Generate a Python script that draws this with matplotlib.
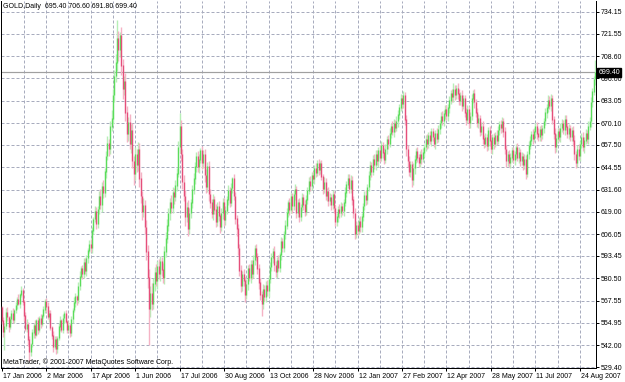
import matplotlib
matplotlib.use("Agg")
import matplotlib.pyplot as plt
import matplotlib.transforms as mtransforms
import numpy as np

# ---------------- data ----------------
symbol_header = "GOLD,Daily  695.40 706.60 691.80 699.40"
copyright_text = "MetaTrader, \u00a9 2001-2007 MetaQuotes Software Corp."
first_open = 563.5
closes = [
    556.0, 549.5, 553.0, 561.0, 558.0, 552.5, 557.0, 560.5, 556.5, 562.0,
    565.0, 568.5, 566.0, 571.0, 573.5, 567.0, 559.0, 551.5, 554.0, 545.0,
    538.0, 542.5, 549.0, 553.5, 548.0, 556.0, 551.0, 557.5, 554.0, 559.0,
    562.5, 567.0, 564.0, 558.0, 560.5, 552.0, 547.5, 541.0, 545.5, 539.5,
    546.0, 552.5, 556.0, 551.0, 557.5, 560.0, 555.5, 551.0, 553.5, 549.0,
    557.0, 562.0, 566.5, 570.0, 568.0, 576.0, 581.5, 586.0, 583.0, 589.5,
    585.0, 592.0, 596.5, 600.0, 598.0, 608.0, 614.5, 619.0, 612.0, 620.5,
    628.0, 623.0, 633.5, 630.0, 642.0, 651.0, 658.5, 655.0, 668.0, 672.5,
    686.0, 697.0, 705.0, 719.0, 712.0, 720.5, 703.0, 690.0, 694.0, 676.0,
    664.0, 670.5, 658.0, 666.0, 648.0, 640.5, 652.0, 646.0, 655.0, 638.0,
    628.0, 619.0, 622.5, 610.0, 596.0, 581.0, 563.0, 572.0, 566.0, 577.5,
    584.0, 579.0, 587.5, 583.0, 590.0, 585.5, 581.0, 596.0, 603.5, 611.0,
    618.0, 624.5, 621.0, 630.0, 627.5, 634.0, 641.0, 656.0, 668.0, 652.0,
    636.0, 628.0, 616.0, 621.5, 609.0, 618.0, 624.0, 631.5, 638.0, 645.0,
    651.0, 644.5, 649.0, 654.0, 647.0, 652.0, 640.0, 633.0, 645.0, 629.0,
    624.0, 617.5, 626.0, 620.0, 613.0, 622.0, 616.5, 610.0, 618.0, 624.5,
    614.0, 619.5, 626.0, 631.0, 624.0, 632.5, 638.0, 628.0, 615.0, 609.0,
    598.0, 585.0, 576.0, 582.5, 579.0, 571.0, 577.0, 586.0, 581.0, 588.5,
    583.0, 591.0, 597.5, 593.0, 586.0, 578.0, 571.0, 566.0, 574.0, 570.0,
    576.5, 573.0, 580.0, 587.0, 592.5, 596.0, 588.0, 584.0, 591.0, 586.5,
    594.0, 601.5, 598.0, 606.0, 611.0, 618.5, 624.0, 620.0, 627.5, 622.0,
    629.0, 632.0, 618.0, 624.0, 616.0, 621.5, 627.0, 623.0, 619.0, 626.0,
    631.0, 636.5, 634.0, 640.0, 638.0, 644.0, 641.5, 647.0, 643.0, 646.5,
    639.0, 632.0, 636.0, 628.0, 630.5, 625.0, 627.0, 623.0, 629.0, 621.0,
    613.0, 616.0, 620.5, 618.0, 622.0, 619.5, 624.0, 630.0, 634.5, 638.0,
    632.0, 637.0, 626.0, 618.0, 606.0, 611.0, 608.0, 613.5, 610.0, 616.0,
    622.0, 628.5, 626.0, 633.0, 640.0, 645.5, 642.0, 649.0, 646.0, 652.0,
    648.0, 654.5, 650.0, 657.0, 653.0, 649.0, 655.0, 660.5, 658.0, 664.0,
    668.0, 665.0, 670.0, 667.5, 671.0, 675.0, 679.0, 684.0, 681.0, 686.0,
    672.0, 655.0, 648.0, 642.0, 646.0, 637.0, 644.0, 649.0, 653.5, 650.0,
    647.0, 652.0, 649.5, 653.0, 656.0, 660.5, 658.0, 663.0, 660.0, 665.5,
    662.0, 658.0, 664.0, 661.0, 666.5, 670.0, 674.0, 671.0, 675.5, 678.0,
    674.0, 679.0, 683.0, 687.0, 685.0, 689.5, 686.0, 690.0, 687.0, 683.0,
    686.0, 680.0, 684.0, 676.0, 672.0, 678.0, 670.0, 674.0, 684.0, 687.0,
    682.0, 676.0, 670.0, 673.0, 665.0, 668.0, 661.0, 658.0, 662.0, 657.0,
    666.0, 660.0, 655.0, 662.0, 658.0, 663.0, 660.0, 666.0, 669.5, 667.0,
    671.0, 665.0, 655.0, 648.0, 652.0, 647.0, 650.0, 654.0, 649.0, 652.0,
    656.0, 650.0, 653.0, 648.0, 651.0, 646.0, 649.0, 641.0, 652.0, 657.0,
    660.0, 663.5, 661.0, 665.0, 668.0, 664.0, 662.0, 666.5, 663.0, 667.0,
    671.0, 676.0, 679.0, 683.0, 680.0, 684.0, 672.0, 664.0, 656.0, 661.0,
    665.0, 662.0, 667.0, 670.0, 666.0, 672.0, 668.0, 664.0, 667.0, 662.0,
    666.0, 660.0, 652.0, 647.0, 655.0, 651.0, 658.0, 662.0, 656.0, 660.0,
    664.0, 661.0, 668.0, 671.0, 682.0, 688.0, 695.4, 699.4,
]
upper_wick = [
    1.0, 2.0, 1.5, 2.5, 3.0, 1.0, 2.0, 1.5, 3.0, 1.0,
    2.0, 1.5, 3.0, 1.0, 2.5, 1.5, 1.0, 2.0, 3.0, 1.5,
    2.0, 1.0, 2.5, 1.5, 3.0, 1.0, 2.0, 1.5, 2.5, 1.0,
    2.0, 1.5, 2.0, 3.0, 1.5, 2.0, 1.0, 2.5, 1.5, 2.0,
    1.5, 2.0, 3.0, 1.0, 2.5, 1.5, 2.0, 1.0, 2.5, 1.5,
    2.0, 1.5, 3.0, 2.0, 1.0, 2.5, 3.0, 1.5, 2.0, 2.5,
    3.0, 2.0, 1.5, 2.5, 3.0, 2.0, 1.5, 3.0, 2.5, 2.0,
    3.0, 4.0, 2.5, 3.5, 2.0, 3.0, 4.0, 2.5, 3.0, 5.0,
    4.0, 3.5, 5.0, 10.5, 4.0, 2.0, 5.0, 4.0, 3.0, 5.0,
    4.0, 3.0, 5.0, 3.5, 4.0, 3.0, 4.5, 3.0, 4.0, 3.5,
    4.0, 3.0, 4.5, 3.0, 4.0, 3.5, 5.0, 4.0, 6.0, 3.0,
    3.0, 5.0, 3.0, 4.0, 3.5, 3.0, 4.0, 3.0, 4.0, 3.5,
    3.0, 2.5, 4.0, 3.0, 2.5, 3.5, 3.0, 4.0, 8.0, 4.0,
    3.0, 4.0, 3.5, 3.0, 4.0, 3.0, 2.5, 3.0, 3.5, 2.5,
    2.5, 3.0, 3.5, 1.7, 3.0, 2.5, 3.0, 3.5, 2.5, 3.0,
    3.0, 2.5, 3.0, 2.0, 3.5, 2.5, 3.0, 2.0, 3.0, 2.5,
    2.5, 3.0, 2.0, 3.5, 2.5, 3.0, 1.0, 3.0, 2.5, 2.0,
    3.0, 2.5, 3.0, 2.0, 3.5, 2.5, 3.0, 2.0, 3.0, 2.5,
    2.5, 3.0, 2.5, 3.0, 2.0, 3.0, 2.5, 2.0, 3.0, 2.5,
    2.5, 3.0, 2.0, 3.0, 2.5, 2.0, 3.0, 2.5, 2.0, 3.0,
    2.0, 3.0, 2.5, 2.0, 3.0, 2.5, 2.0, 3.0, 2.5, 2.0,
    2.5, 3.0, 2.0, 2.5, 3.0, 2.0, 2.5, 2.0, 3.0, 2.5,
    2.0, 2.5, 3.0, 2.0, 2.5, 2.0, 3.0, 2.0, 2.5, 2.0,
    2.5, 2.0, 3.0, 2.5, 2.0, 2.5, 3.0, 2.0, 2.5, 2.0,
    2.0, 2.5, 2.0, 3.0, 2.5, 2.0, 2.5, 3.0, 2.0, 2.5,
    2.5, 3.0, 2.5, 2.0, 3.0, 2.5, 2.0, 2.5, 3.0, 2.0,
    2.0, 2.5, 3.0, 2.0, 2.5, 3.0, 2.0, 2.5, 3.0, 2.5,
    2.5, 2.0, 3.0, 2.5, 2.0, 2.5, 3.0, 2.0, 2.5, 3.0,
    2.0, 3.0, 2.5, 2.0, 3.0, 2.5, 2.0, 3.0, 2.5, 2.5,
    2.0, 3.0, 2.5, 3.0, 2.5, 2.0, 3.0, 2.5, 2.0, 3.0,
    2.5, 2.0, 3.0, 2.5, 2.0, 2.5, 3.0, 2.0, 2.5, 2.0,
    2.0, 2.5, 2.0, 3.0, 2.5, 2.0, 2.5, 3.0, 2.0, 2.5,
    2.5, 2.0, 2.5, 2.0, 3.0, 3.5, 2.5, 2.0, 3.0, 2.5,
    2.0, 3.0, 2.5, 2.0, 3.0, 2.5, 2.0, 2.5, 3.0, 2.0,
    2.5, 2.0, 3.0, 2.5, 2.0, 2.5, 3.0, 2.0, 2.5, 2.0,
    2.0, 2.5, 3.0, 2.0, 2.5, 2.0, 3.0, 2.5, 2.0, 2.5,
    2.5, 2.0, 3.0, 2.5, 2.0, 2.5, 3.0, 2.0, 2.5, 2.0,
    2.0, 2.5, 3.0, 2.0, 2.5, 2.0, 3.0, 2.5, 2.0, 2.5,
    2.5, 2.0, 3.0, 2.5, 2.0, 2.5, 3.0, 2.0, 2.5, 2.0,
    2.0, 2.5, 2.0, 3.0, 2.5, 3.0, 2.5, 2.0, 3.0, 2.5,
    2.5, 2.0, 3.0, 2.5, 2.0, 2.5, 3.0, 2.0, 2.5, 2.0,
    2.0, 2.5, 3.0, 2.0, 2.5, 3.0, 2.0, 2.5, 3.0, 2.0,
    2.5, 2.0, 3.0, 2.5, 3.0, 2.5, 2.0, 7.2,
]
lower_wick = [
    2.0, 3.0, 10.5, 1.5, 2.0, 3.0, 1.0, 2.5, 1.5, 2.0,
    1.5, 2.0, 1.0, 2.5, 1.0, 2.0, 3.0, 1.5, 2.0, 3.5,
    5.0, 2.0, 1.5, 3.0, 2.0, 1.0, 2.5, 1.5, 2.0, 1.0,
    1.5, 2.0, 3.0, 1.0, 2.5, 1.5, 2.0, 3.0, 1.0, 2.5,
    2.0, 1.0, 2.5, 1.5, 2.0, 3.0, 1.0, 2.0, 1.5, 2.5,
    1.5, 2.0, 1.0, 2.5, 3.0, 1.5, 2.0, 1.0, 3.0, 2.0,
    2.0, 3.0, 2.5, 1.5, 2.0, 3.0, 2.0, 1.5, 3.0, 2.5,
    3.0, 2.5, 4.0, 3.0, 2.5, 3.5, 2.0, 4.0, 3.0, 2.5,
    3.0, 4.0, 3.5, 5.0, 6.0, 4.0, 5.0, 6.0, 4.0, 5.0,
    5.0, 4.0, 3.0, 5.0, 4.0, 6.0, 3.0, 4.0, 3.5, 5.0,
    4.0, 5.0, 3.0, 4.0, 5.0, 6.0, 21.0, 5.0, 4.0, 3.0,
    4.0, 3.0, 4.5, 3.0, 4.0, 3.5, 3.0, 4.0, 3.0, 2.5,
    3.0, 4.0, 2.5, 3.0, 4.0, 2.5, 3.0, 2.0, 3.0, 4.0,
    4.0, 3.0, 5.0, 3.0, 4.0, 3.0, 2.5, 3.0, 2.5, 3.0,
    3.0, 2.5, 3.0, 2.0, 3.5, 3.0, 4.0, 3.0, 2.5, 4.0,
    3.0, 2.0, 3.5, 2.5, 3.0, 2.0, 3.0, 3.5, 2.0, 3.0,
    3.0, 2.5, 2.0, 3.0, 2.5, 2.0, 3.0, 2.5, 3.0, 4.0,
    4.0, 3.0, 3.5, 2.5, 3.0, 4.0, 2.5, 3.0, 2.0, 3.0,
    3.0, 2.5, 3.0, 2.5, 3.0, 3.5, 3.0, 7.0, 3.0, 2.5,
    3.0, 2.5, 3.0, 2.0, 2.5, 3.0, 3.5, 2.5, 3.0, 2.0,
    2.5, 3.0, 2.0, 2.5, 3.0, 2.0, 2.5, 3.0, 2.0, 3.5,
    2.0, 3.0, 2.5, 2.0, 3.0, 2.5, 2.0, 3.0, 2.5, 2.0,
    2.5, 2.0, 3.0, 2.5, 2.0, 3.0, 2.5, 2.0, 3.0, 2.5,
    2.0, 3.0, 2.5, 2.0, 3.0, 2.5, 2.0, 3.0, 2.5, 3.0,
    2.5, 2.0, 3.0, 2.5, 2.0, 2.5, 3.0, 2.0, 2.5, 2.0,
    2.0, 2.5, 3.0, 2.5, 3.0, 2.0, 2.5, 2.0, 3.0, 2.5,
    2.5, 2.0, 3.0, 2.5, 2.0, 2.5, 3.0, 2.0, 2.5, 3.0,
    2.0, 3.0, 2.5, 2.0, 3.0, 2.5, 2.0, 2.5, 3.0, 2.0,
    2.5, 2.0, 3.0, 2.5, 2.0, 3.0, 2.5, 2.0, 3.0, 2.5,
    3.0, 4.0, 3.0, 2.5, 3.0, 4.0, 2.5, 3.0, 2.0, 2.5,
    2.0, 2.5, 3.0, 2.0, 2.5, 2.0, 3.0, 2.5, 2.0, 3.0,
    2.5, 2.0, 3.0, 2.5, 2.0, 3.0, 2.5, 2.0, 2.5, 3.0,
    2.0, 2.5, 3.0, 2.0, 2.5, 3.0, 2.5, 2.0, 3.0, 2.5,
    2.5, 3.0, 2.0, 2.5, 3.0, 2.0, 2.5, 3.0, 2.0, 2.5,
    3.0, 2.5, 2.0, 3.0, 2.5, 2.0, 3.0, 2.5, 2.0, 3.0,
    2.5, 3.0, 2.0, 2.5, 3.0, 2.0, 2.5, 2.0, 3.0, 2.5,
    2.0, 3.0, 2.5, 3.0, 2.5, 2.0, 3.0, 2.5, 2.0, 3.0,
    2.5, 2.0, 3.0, 2.5, 2.0, 3.0, 2.5, 3.0, 2.0, 2.5,
    2.0, 2.5, 3.0, 2.0, 2.5, 3.0, 2.0, 2.5, 3.0, 2.0,
    2.5, 2.0, 3.0, 2.5, 2.0, 3.0, 2.5, 3.0, 3.0, 2.5,
    2.0, 2.5, 3.0, 2.0, 2.5, 3.0, 2.0, 2.5, 3.0, 2.0,
    2.5, 3.0, 3.0, 3.0, 2.5, 2.0, 3.0, 2.5, 2.0, 3.0,
    2.0, 2.5, 3.0, 2.0, 3.0, 2.5, 2.0, 3.6,
]
price_ticks = [734.15, 721.55, 708.60, 696.00, 683.05, 670.10, 657.50, 644.55,
               631.60, 619.00, 606.05, 593.45, 580.50, 567.55, 554.95, 542.00, 529.40]
date_labels = ["17 Jan 2006", "2 Mar 2006", "17 Apr 2006", "1 Jun 2006",
               "17 Jul 2006", "30 Aug 2006", "13 Oct 2006", "28 Nov 2006",
               "12 Jan 2007", "27 Feb 2007", "12 Apr 2007", "28 May 2007",
               "11 Jul 2007", "24 Aug 2007"]
bars_per_label = 32
bid_price = 699.40

# ---------------- styling ----------------
UP_BODY, UP_WICK = "#5bdc5b", "#b6efb6"
DN_BODY, DN_WICK = "#e54f7b", "#f5b3c5"
GRID = "#a8acbe"
FONT = ["Liberation Sans", "DejaVu Sans"]
FS = 5.0

W, H = 625, 382
fig = plt.figure(figsize=(W / 100, H / 100), dpi=100)
fig.patch.set_facecolor("white")
ax = fig.add_axes([0.5 / W, 1 - 368 / H, 595.5 / W, 367 / H])

closes_a = np.array(closes)
opens_a = np.concatenate([[first_open], closes_a[:-1]])
body_top = np.maximum(opens_a, closes_a)
body_bot = np.minimum(opens_a, closes_a)
highs_a = body_top + np.array(upper_wick)
lows_a = body_bot - np.array(lower_wick)
idx = np.arange(len(closes_a))
up = closes_a >= opens_a

px = 0.72  # one pixel in points
ax.vlines(idx[up], lows_a[up], highs_a[up], colors=UP_WICK, lw=px * 1.4, zorder=3)
ax.vlines(idx[~up], lows_a[~up], highs_a[~up], colors=DN_WICK, lw=px * 1.4, zorder=3)
ax.vlines(idx[up], body_bot[up], body_top[up] + 0.3, colors=UP_BODY, lw=px * 1.3, zorder=4)
ax.vlines(idx[~up], body_bot[~up], body_top[~up] + 0.3, colors=DN_BODY, lw=px * 1.3, zorder=4)

# scales: bar 0 at x~1.7px, 1.39 px per bar; price 734.15 at y=12, 529.40 at y=367
ppb = 1.39
x0 = -1.2 / ppb
ax.set_xlim(x0, x0 + 595.5 / ppb)
k = (price_ticks[0] - price_ticks[-1]) / 355.0
ax.set_ylim(price_ticks[-1] - 1 * k, price_ticks[0] + 11 * k)

# grid
for p in price_ticks:
    ax.axhline(p, color=GRID, lw=px, ls=(0, (3, 2)), zorder=1)
for b in range(16, len(closes_a) + 16, 16):
    ax.axvline(b, color=GRID, lw=px, ls=(0, (3, 2)), zorder=1)

# bid line
ax.axhline(bid_price, color="#a0a0a0", lw=px * 1.2, zorder=2)

# axes
for s in ax.spines.values():
    s.set_color("#000000")
    s.set_linewidth(px)
ax.spines["top"].set_visible(False)
ax.yaxis.tick_right()
ax.set_yticks(price_ticks)
ax.set_yticklabels([f"{p:.2f}" for p in price_ticks], fontsize=FS, family=FONT)
ax.tick_params(axis="y", length=2.2, width=px, pad=1.2, colors="black")
xt = np.arange(len(date_labels)) * bars_per_label
ax.set_xticks(xt)
ax.set_xticklabels(date_labels, fontsize=FS, family=FONT, ha="left")
ax.tick_params(axis="x", length=2.2, width=px, pad=1.5, colors="black")
off = mtransforms.ScaledTranslation(1 / 100, 0, fig.dpi_scale_trans)
for lab in ax.get_xticklabels():
    lab.set_transform(lab.get_transform() + off)

# bid box
trans = mtransforms.blended_transform_factory(ax.transAxes, ax.transData)
ax.text(1.0 + 2.5 / 595.5, bid_price, f"{bid_price:.2f}", transform=trans,
        ha="left", va="center", fontsize=FS, family=FONT, color="white",
        bbox=dict(boxstyle="square,pad=0.15", fc="black", ec="black"),
        clip_on=False, zorder=10)

# header and copyright
fig.text(3 / W, 1 - 7 / H, symbol_header, fontsize=FS, family=FONT,
         ha="left", va="center", color="black")
fig.text(3 / W, 1 - 362 / H, copyright_text, fontsize=FS, family=FONT,
         ha="left", va="center", color="black")

fig.savefig("out.png", dpi=100, facecolor="white")
